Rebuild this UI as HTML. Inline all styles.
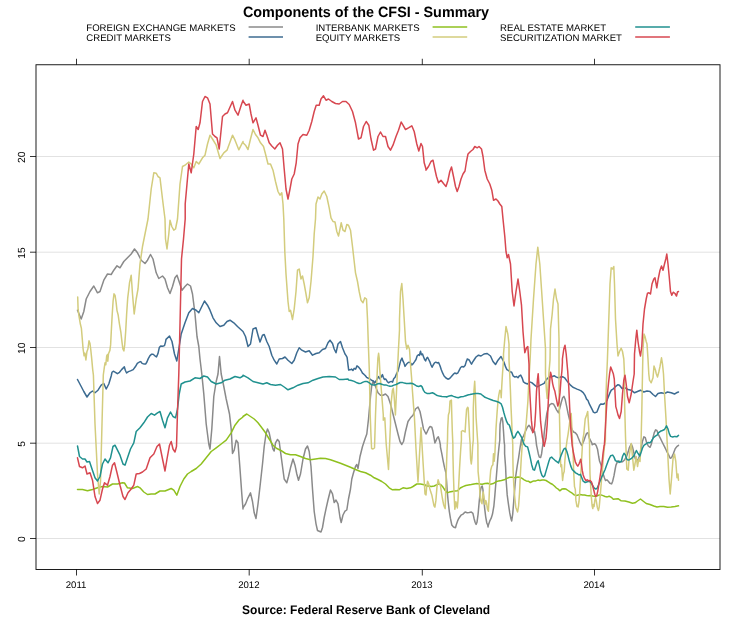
<!DOCTYPE html>
<html lang="en"><head><meta charset="utf-8"><title>Components of the CFSI - Summary</title>
<style>html,body{margin:0;padding:0;background:#fff}body{width:732px;height:620px;position:relative;overflow:hidden}</style></head>
<body>
<svg width="732" height="620" viewBox="0 0 732 620" style="position:absolute;left:0;top:0;will-change:transform;font-family:'Liberation Sans',Arial,sans-serif;text-rendering:geometricPrecision">
<line x1="36.0" x2="720.0" y1="538.5" y2="538.5" stroke="#dadada" stroke-width="0.8"/>
<line x1="36.0" x2="720.0" y1="443.2" y2="443.2" stroke="#dadada" stroke-width="0.8"/>
<line x1="36.0" x2="720.0" y1="347.5" y2="347.5" stroke="#dadada" stroke-width="0.8"/>
<line x1="36.0" x2="720.0" y1="252.2" y2="252.2" stroke="#dadada" stroke-width="0.8"/>
<line x1="36.0" x2="720.0" y1="156.5" y2="156.5" stroke="#dadada" stroke-width="0.8"/>
<path d="M77.5,310.2 L81.2,319.0 L83.8,311.5 L86.2,299.0 L90.0,291.5 L93.8,286.0 L97.5,292.8 L100.0,291.5 L103.8,280.2 L107.5,274.0 L111.2,274.5 L113.8,270.2 L117.0,265.8 L120.0,267.8 L123.8,261.5 L127.5,257.8 L131.2,254.0 L134.5,249.0 L137.5,252.8 L141.2,260.2 L145.0,263.5 L147.5,260.2 L150.5,254.5 L153.0,259.0 L156.2,272.8 L158.8,278.5 L162.5,276.0 L165.0,279.0 L167.5,287.8 L170.0,293.5 L172.5,286.5 L175.0,277.8 L177.0,275.2 L179.5,282.8 L182.0,290.2 L185.0,286.5 L187.5,284.0 L190.5,286.0 L192.5,294.0 L195.0,314.0 L197.0,336.5 L198.8,346.5 L200.0,359.0 L201.8,374.0 L203.8,394.0 L206.2,424.0 L208.8,444.0 L210.0,449.0 L211.8,429.0 L213.8,396.5 L216.2,381.5 L218.0,374.0 L219.5,356.5 L221.2,374.0 L223.8,386.5 L226.2,399.0 L229.5,414.0 L231.2,429.0 L232.5,453.5 L234.2,450.2 L236.2,440.2 L238.0,442.8 L240.0,469.0 L241.8,494.0 L243.0,509.0 L243.0,507.8 L245.5,504.0 L248.0,497.8 L250.5,492.8 L252.5,501.5 L254.2,512.8 L256.0,518.5 L258.0,504.0 L260.0,486.5 L262.5,464.0 L264.2,446.5 L266.0,434.0 L267.5,429.0 L269.2,432.8 L271.0,441.5 L273.0,449.0 L274.2,451.0 L275.5,442.8 L277.5,439.5 L279.2,441.5 L280.5,451.5 L282.5,466.5 L284.2,479.0 L286.8,482.8 L288.5,476.5 L290.5,467.8 L293.0,459.0 L295.0,465.2 L296.8,474.0 L298.5,480.2 L300.5,474.0 L303.0,459.0 L305.5,449.0 L307.5,446.0 L309.2,451.5 L311.0,466.5 L312.5,489.0 L314.2,511.5 L316.0,523.8 L317.5,530.5 L319.2,531.2 L321.0,532.0 L322.5,527.5 L324.2,517.5 L326.0,508.8 L328.0,500.0 L330.5,490.0 L332.5,493.8 L334.2,502.5 L336.0,500.0 L338.0,503.8 L340.0,517.5 L341.2,522.5 L343.0,515.0 L345.0,511.2 L346.8,510.0 L348.5,499.0 L350.5,489.0 L351.8,479.0 L353.5,472.8 L355.5,466.5 L356.8,464.5 L358.0,468.5 L360.0,456.5 L362.5,446.5 L365.0,439.0 L366.8,434.0 L368.5,419.0 L370.5,396.5 L371.8,385.2 L373.0,381.5 L375.5,386.5 L378.0,392.8 L380.5,395.2 L383.0,395.2 L385.5,394.0 L388.0,396.5 L390.5,404.0 L393.0,414.0 L395.5,424.0 L398.0,434.0 L400.0,441.5 L401.8,444.5 L403.5,441.5 L405.5,431.5 L408.0,421.5 L410.5,417.8 L413.0,415.2 L415.5,409.0 L418.0,407.0 L420.0,411.5 L421.8,420.2 L423.5,429.0 L426.0,434.0 L426.0,434.1 L427.4,431.3 L429.0,427.9 L430.1,426.5 L431.8,427.2 L432.9,431.3 L434.0,437.5 L434.9,443.0 L435.9,440.9 L437.0,438.2 L438.3,436.8 L439.4,440.2 L440.4,445.0 L440.4,446.9 L441.8,453.7 L443.1,460.6 L444.5,467.4 L445.9,472.9 L446.6,481.2 L447.3,492.1 L448.2,501.7 L449.3,511.3 L450.4,518.2 L451.8,525.0 L453.5,527.0 L455.5,527.8 L456.2,525.0 L457.6,520.9 L458.9,518.2 L461.0,515.2 L463.0,514.1 L465.1,512.0 L467.2,512.7 L469.2,512.4 L471.3,512.0 L472.9,513.4 L474.0,518.2 L475.1,522.3 L476.1,524.4 L477.0,522.3 L478.1,514.1 L479.2,501.7 L480.2,492.1 L481.1,487.3 L482.2,486.0 L482.9,489.4 L483.6,497.6 L484.7,508.6 L485.7,516.8 L486.8,523.0 L487.7,525.0 L488.0,527.0 L488.4,525.0 L489.8,520.9 L491.2,518.2 L492.5,514.1 L493.9,505.8 L494.9,494.9 L496.0,481.2 L497.1,467.4 L498.0,456.5 L499.0,446.9 L499.8,440.0 L499.8,434.1 L500.1,424.5 L501.2,418.3 L502.1,417.6 L502.8,421.7 L503.5,431.3 L504.2,442.3 L504.6,445.0 L504.6,453.7 L505.6,467.4 L506.2,481.2 L507.2,494.9 L508.3,503.1 L509.7,512.7 L510.8,518.2 L511.7,520.9 L512.7,514.1 L513.8,500.4 L514.9,486.6 L515.8,475.7 L517.2,466.1 L518.6,457.8 L520.0,448.2 L521.3,440.0 L521.3,445.0 L521.4,439.6 L523.5,436.1 L525.5,431.3 L527.3,427.2 L529.0,425.2 L530.3,427.2 L531.7,430.0 L533.1,432.0 L534.5,431.3 L535.6,436.8 L536.5,445.0 L536.9,446.9 L538.3,453.7 L539.3,457.1 L540.6,457.6 L541.6,453.7 L542.7,445.5 L543.4,440.0 L543.4,445.0 L544.1,434.1 L545.4,423.1 L546.8,413.5 L548.2,408.0 L549.8,404.6 L551.6,403.6 L553.4,403.9 L555.0,406.6 L556.7,410.1 L558.5,412.8 L559.8,408.0 L561.2,402.5 L562.6,397.7 L564.0,396.4 L565.3,399.8 L566.7,406.6 L568.1,413.5 L569.4,419.0 L570.8,425.8 L572.2,430.0 L573.6,432.0 L575.3,432.7 L577.0,434.8 L578.4,438.2 L579.7,441.6 L581.1,444.4 L581.8,445.5 L583.8,440.9 L585.2,436.8 L586.6,433.4 L588.0,432.7 L589.3,438.2 L590.7,440.9 L592.1,443.7 L592.1,444.8 L593.4,444.1 L594.8,443.8 L596.2,445.5 L597.6,449.6 L598.7,456.5 L599.6,461.3 L601.0,464.7 L602.0,468.8 L603.0,473.6 L604.4,477.7 L605.5,480.5 L606.9,479.8 L608.3,481.2 L609.9,483.2 L611.6,483.9 L612.7,481.2 L614.0,475.7 L615.1,469.5 L615.9,465.4 L617.1,462.4 L618.5,461.0 L620.6,461.7 L622.6,461.7 L624.7,459.7 L626.7,456.2 L628.1,452.1 L629.5,447.3 L631.3,443.9 L632.6,447.3 L634.0,453.5 L635.4,459.0 L636.8,460.4 L638.4,459.0 L639.8,454.9 L641.2,448.0 L642.5,441.2 L643.9,436.8 L645.3,437.7 L646.6,442.5 L648.3,446.0 L650.1,447.3 L651.4,443.9 L652.8,438.4 L654.2,432.9 L655.6,429.9 L656.9,430.5 L658.3,434.3 L660.4,438.4 L662.4,442.5 L664.5,446.6 L666.5,450.8 L668.6,454.9 L670.2,458.3 L671.6,457.6 L673.4,453.5 L675.2,448.7 L676.8,446.6 L678.5,445.3" fill="none" stroke="#8a8a8a" stroke-width="1.5" stroke-linejoin="round" stroke-linecap="round"/>
<path d="M77.5,379.5 L81.2,386.5 L83.8,391.5 L87.0,397.0 L90.0,392.8 L92.5,391.0 L95.0,392.8 L98.0,390.2 L101.2,385.2 L103.8,383.5 L106.2,389.0 L108.8,384.0 L111.2,376.0 L112.0,372.3 L113.3,371.2 L115.4,372.3 L117.4,373.7 L119.5,372.3 L121.6,369.6 L123.3,367.9 L124.3,366.8 L125.3,370.2 L126.6,373.0 L128.4,371.6 L130.5,370.9 L133.2,369.6 L135.3,366.8 L137.3,363.4 L139.4,362.0 L140.8,361.6 L142.1,363.4 L144.2,364.1 L145.6,364.1 L146.9,362.0 L148.3,358.6 L150.0,355.6 L151.7,354.2 L153.1,354.2 L154.9,355.8 L156.5,356.9 L157.9,353.8 L159.3,347.6 L160.7,346.0 L162.7,346.2 L164.5,345.6 L165.5,342.1 L166.0,339.4 L169.5,336.0 L172.0,341.5 L174.5,354.0 L176.8,361.0 L178.8,349.0 L181.2,334.0 L185.0,322.8 L188.8,312.8 L192.5,308.5 L196.2,310.2 L198.8,312.8 L201.2,307.8 L204.5,301.0 L207.5,305.2 L210.0,310.2 L213.0,317.8 L216.2,322.8 L220.0,326.5 L223.8,325.2 L227.0,321.5 L230.0,320.2 L233.8,322.8 L237.5,326.5 L243.0,331.5 L243.0,331.5 L245.5,336.5 L248.0,346.5 L250.5,344.0 L253.0,329.0 L256.0,327.8 L258.0,335.2 L260.0,342.0 L262.5,335.2 L264.2,334.5 L266.8,341.5 L269.2,346.5 L271.8,355.2 L274.2,360.2 L276.8,364.0 L279.2,359.0 L282.5,358.5 L285.0,357.0 L288.0,360.2 L291.8,363.5 L294.2,360.2 L296.8,352.8 L299.2,347.8 L301.8,350.2 L305.5,352.0 L309.2,350.8 L312.5,355.2 L316.0,353.5 L319.2,352.8 L322.5,349.5 L325.5,348.5 L328.0,342.8 L330.0,340.2 L332.5,343.5 L334.2,349.0 L336.0,352.8 L338.0,344.0 L340.5,341.5 L342.5,347.8 L345.0,354.0 L346.0,355.4 L347.1,357.4 L348.1,365.7 L348.7,370.1 L350.1,369.8 L351.5,369.1 L352.9,370.5 L354.2,368.4 L355.6,369.1 L357.0,365.9 L358.3,366.8 L359.7,368.4 L361.1,370.5 L362.5,373.2 L363.8,374.2 L365.2,375.5 L366.6,377.3 L367.9,378.0 L369.3,378.7 L370.7,379.7 L372.1,380.5 L373.4,381.0 L374.8,382.8 L376.2,380.8 L377.6,378.0 L378.6,376.6 L379.6,378.7 L381.0,377.3 L382.4,374.6 L383.3,377.3 L384.4,379.4 L385.8,379.1 L387.2,381.4 L388.5,382.8 L389.9,381.9 L391.3,381.4 L392.6,382.1 L393.7,378.7 L395.1,377.3 L396.5,373.9 L397.9,371.2 L399.2,366.4 L400.6,360.9 L402.0,358.1 L402.9,360.9 L403.9,362.9 L405.0,366.4 L406.4,364.3 L407.7,362.9 L409.1,362.2 L410.5,362.9 L411.8,365.0 L413.2,363.6 L414.6,361.6 L416.0,359.5 L417.1,356.1 L418.4,354.7 L419.4,355.4 L420.5,351.3 L421.4,354.7 L422.5,354.0 L423.5,356.7 L424.6,359.5 L425.6,360.9 L426.7,358.1 L427.6,357.4 L428.7,359.5 L430.0,362.2 L431.0,365.0 L432.1,367.3 L433.2,365.0 L434.5,362.9 L435.8,362.2 L437.2,362.9 L438.6,362.6 L440.0,365.7 L441.3,369.8 L442.7,373.2 L444.1,376.0 L446.0,378.0 L447.9,379.2 L449.6,378.5 L451.4,376.5 L453.2,374.4 L454.8,373.0 L456.5,373.7 L457.8,373.0 L459.2,370.3 L460.6,367.5 L461.9,366.6 L463.7,366.9 L465.1,365.5 L466.1,362.1 L466.9,360.0 L467.2,359.0 L469.2,360.0 L470.6,362.7 L471.5,364.1 L472.6,362.1 L474.0,360.0 L476.0,357.0 L478.5,355.2 L481.0,356.0 L484.0,354.0 L487.2,353.5 L490.5,356.0 L493.0,361.5 L495.5,364.5 L498.0,360.2 L501.0,356.5 L504.2,362.7 L505.6,366.9 L506.9,369.6 L508.3,370.3 L510.0,371.7 L511.7,372.3 L513.1,375.8 L514.9,377.1 L516.5,376.5 L518.0,377.8 L519.4,375.8 L520.7,375.1 L522.1,377.8 L523.5,381.9 L525.5,383.3 L527.6,384.0 L529.7,381.9 L531.7,382.6 L533.8,384.4 L535.8,386.1 L537.9,386.7 L539.9,385.4 L542.0,384.4 L544.1,383.3 L546.1,379.9 L548.2,377.8 L550.2,376.7 L552.3,376.5 L554.4,375.8 L556.4,377.1 L558.5,377.8 L560.5,377.1 L562.6,376.7 L564.6,377.8 L566.7,380.6 L568.8,383.3 L570.8,385.4 L572.9,387.2 L574.9,388.1 L577.0,389.1 L579.0,389.9 L581.1,390.9 L583.2,392.6 L585.2,395.7 L586.6,399.1 L588.0,400.5 L589.3,403.9 L590.7,406.6 L592.1,409.4 L593.4,412.1 L594.8,412.8 L596.9,412.1 L598.2,408.7 L599.6,405.3 L601.0,403.9 L603.0,404.2 L605.1,403.2 L607.2,399.8 L608.5,396.4 L609.9,392.9 L611.3,390.2 L613.3,388.8 L615.4,386.7 L618.0,384.7 L619.5,385.2 L622.0,388.5 L625.0,387.8 L628.0,389.5 L631.2,390.2 L634.5,392.8 L637.5,391.5 L640.5,390.2 L643.8,392.0 L647.0,391.0 L650.0,391.5 L653.0,394.5 L655.5,396.5 L658.0,393.5 L661.2,392.8 L664.5,393.5 L667.5,392.0 L671.2,392.8 L674.5,394.0 L676.5,392.8 L678.5,392.0" fill="none" stroke="#3c6b91" stroke-width="1.5" stroke-linejoin="round" stroke-linecap="round"/>
<path d="M77.5,489.5 L82.5,489.5 L87.5,490.8 L92.5,489.5 L97.5,487.8 L102.5,486.5 L107.5,487.0 L112.5,484.0 L117.5,484.0 L122.5,482.8 L124.5,483.0 L127.5,487.8 L132.5,488.5 L137.5,486.5 L140.0,487.8 L143.8,492.0 L147.5,494.5 L151.2,494.0 L155.0,494.0 L160.0,491.0 L165.0,491.0 L171.2,488.5 L173.8,490.2 L176.8,495.2 L180.0,486.5 L183.8,479.0 L187.5,474.0 L191.2,471.5 L196.2,468.5 L201.2,464.0 L206.2,457.8 L211.2,451.5 L216.2,447.8 L221.2,444.0 L226.2,440.2 L231.2,432.8 L235.0,425.2 L238.8,420.2 L243.0,417.0 L243.0,416.5 L246.8,414.0 L250.5,416.5 L254.2,419.0 L258.0,422.8 L261.8,427.8 L265.5,432.8 L269.2,439.0 L273.0,445.2 L276.8,448.5 L280.5,450.2 L285.5,453.5 L290.5,454.8 L295.5,454.8 L300.5,456.5 L305.5,458.5 L310.5,459.8 L315.5,459.0 L320.5,458.2 L325.5,458.5 L330.5,459.8 L335.5,461.5 L340.5,463.2 L345.5,465.2 L350.5,467.2 L355.5,469.5 L360.5,471.5 L365.5,472.8 L370.5,475.2 L374.2,477.8 L378.0,479.5 L381.8,481.5 L385.5,484.0 L389.2,487.8 L392.5,489.8 L395.5,489.5 L399.2,489.8 L403.0,487.8 L406.8,488.5 L410.5,487.8 L413.0,486.5 L416.8,484.0 L420.5,484.0 L424.2,484.8 L426.0,485.2 L426.0,486.0 L428.7,486.0 L431.5,486.4 L434.2,486.0 L437.0,484.6 L439.0,483.9 L441.1,485.0 L443.1,487.3 L445.2,490.5 L447.3,492.8 L449.3,492.1 L452.1,491.4 L454.8,491.0 L457.6,490.8 L460.3,488.0 L463.0,486.6 L465.8,485.5 L468.5,485.0 L471.3,484.6 L474.0,483.9 L476.8,483.6 L479.5,483.9 L482.2,484.2 L485.0,483.6 L487.7,483.2 L490.5,484.2 L493.2,483.6 L496.0,481.8 L498.7,480.9 L501.4,480.5 L504.2,479.8 L506.9,478.4 L509.7,477.3 L512.4,477.3 L515.2,477.7 L517.9,477.0 L518.0,477.0 L520.1,477.3 L522.1,478.4 L524.2,479.8 L526.2,480.9 L528.3,481.2 L530.3,482.5 L531.7,481.8 L533.8,480.9 L535.8,480.9 L537.9,480.1 L539.9,480.5 L542.0,480.1 L544.1,480.1 L546.1,480.5 L548.2,481.8 L550.2,483.2 L552.3,484.2 L554.4,486.0 L556.4,488.0 L558.5,489.4 L559.8,490.8 L561.9,489.1 L564.0,488.7 L566.0,489.1 L568.1,490.5 L570.1,491.9 L572.2,493.2 L574.2,494.9 L576.3,495.6 L578.4,495.1 L580.4,494.6 L582.5,494.9 L584.5,495.1 L586.6,495.6 L588.6,495.7 L590.7,495.6 L592.8,496.0 L594.8,496.2 L596.9,496.0 L598.9,495.1 L601.0,494.9 L603.0,495.6 L605.1,496.5 L607.2,496.9 L609.2,496.2 L611.3,497.3 L613.3,499.3 L615.4,499.0 L618.0,498.7 L621.2,500.8 L625.0,501.0 L628.8,502.0 L632.5,503.2 L635.0,502.8 L637.5,501.0 L640.5,499.0 L643.0,501.0 L646.2,503.5 L650.0,504.5 L653.8,506.0 L657.0,507.0 L660.0,506.5 L663.8,506.5 L667.5,507.2 L671.2,507.0 L675.0,506.5 L678.5,505.8" fill="none" stroke="#8fc01f" stroke-width="1.5" stroke-linejoin="round" stroke-linecap="round"/>
<path d="M77.7,296.9 L78.1,309.2 L79.0,316.1 L80.4,324.3 L81.4,328.4 L82.2,338.0 L83.1,349.0 L84.1,355.8 L84.9,353.1 L85.9,360.0 L86.9,351.7 L87.9,349.0 L89.0,340.8 L90.0,343.5 L90.7,349.0 L91.7,358.6 L92.7,369.6 L93.4,375.0 L95.0,424.0 L97.5,474.0 L99.2,494.0 L100.5,481.5 L102.0,424.0 L103.3,375.0 L104.4,366.8 L105.1,362.7 L105.8,364.8 L106.7,355.8 L107.4,354.5 L107.8,361.3 L108.5,353.8 L109.9,350.4 L110.6,344.9 L111.3,331.2 L112.2,314.7 L113.1,301.0 L114.0,293.8 L115.1,295.5 L116.1,302.3 L117.0,310.6 L118.1,314.7 L119.5,324.3 L120.9,332.5 L122.0,342.1 L122.9,349.0 L123.9,351.0 L124.7,344.9 L125.7,331.2 L126.6,314.7 L127.7,298.2 L128.7,290.0 L129.5,282.8 L131.2,275.2 L132.5,294.0 L134.2,314.0 L136.2,299.0 L138.0,289.0 L140.0,264.0 L142.5,246.5 L145.0,234.0 L148.0,219.0 L151.2,189.0 L153.8,172.8 L156.2,173.2 L158.0,176.5 L160.0,177.8 L162.5,199.0 L165.0,219.0 L165.5,239.0 L167.0,249.0 L168.8,234.0 L170.0,220.2 L171.8,226.5 L173.8,230.2 L175.5,229.0 L177.5,219.0 L180.0,184.0 L182.5,166.5 L185.0,165.2 L188.8,162.0 L191.2,164.0 L193.8,167.8 L196.2,161.5 L198.8,164.0 L202.5,157.8 L205.0,155.2 L207.5,144.0 L210.0,135.2 L212.5,139.0 L216.2,145.2 L220.0,158.5 L223.8,152.8 L227.0,150.2 L232.5,135.2 L235.0,140.2 L238.8,149.8 L243.0,141.5 L243.0,142.8 L245.5,145.2 L248.0,149.5 L250.5,139.0 L253.0,129.5 L255.5,134.5 L258.0,137.8 L260.5,142.8 L263.5,146.5 L265.5,154.0 L268.0,164.0 L270.5,164.0 L273.0,170.2 L275.5,181.5 L278.0,191.5 L280.0,195.2 L281.8,192.8 L283.0,204.0 L283.8,219.0 L284.8,251.5 L286.0,274.0 L288.0,301.5 L289.2,311.5 L290.5,310.2 L292.5,319.5 L294.2,309.0 L296.0,291.5 L297.5,270.2 L299.2,269.0 L301.0,279.0 L302.5,276.0 L304.2,284.0 L306.0,294.0 L307.5,302.8 L309.2,297.8 L311.0,281.5 L313.0,256.5 L314.2,234.0 L315.5,219.0 L316.0,204.0 L318.0,197.0 L320.0,199.0 L321.8,194.0 L324.2,191.0 L326.8,196.5 L329.2,207.8 L331.0,217.8 L333.0,221.5 L335.0,222.0 L336.8,231.5 L338.5,236.0 L340.0,229.0 L341.2,222.8 L343.0,230.2 L345.0,231.5 L346.8,224.5 L348.5,225.2 L350.5,230.2 L352.5,246.5 L354.2,261.5 L355.5,272.8 L357.5,281.5 L359.2,291.5 L361.0,300.2 L363.0,302.8 L364.8,297.8 L366.5,299.0 L367.5,319.0 L368.2,340.0 L369.3,370.0 L370.2,415.0 L371.0,436.0 L371.6,448.5 L373.0,449.0 L374.5,448.0 L375.0,432.0 L375.5,415.0 L377.3,370.0 L377.9,358.0 L378.6,353.3 L379.2,358.0 L379.8,370.0 L381.5,392.0 L383.3,415.0 L383.3,420.2 L384.8,417.8 L386.2,444.0 L388.5,469.5 L390.5,424.0 L390.5,415.0 L391.3,401.3 L392.4,390.4 L393.3,388.3 L394.0,394.5 L394.7,404.1 L395.4,415.0 L396.5,391.7 L397.4,371.2 L398.4,350.6 L399.5,330.0 L399.5,319.0 L400.5,291.5 L401.8,283.5 L403.0,299.0 L404.2,319.0 L405.5,341.5 L406.8,349.0 L408.0,345.2 L409.5,349.2 L410.5,364.3 L411.6,378.0 L412.5,391.7 L413.5,405.4 L414.3,415.0 L416.0,449.0 L418.0,482.0 L419.8,449.0 L421.0,427.8 L423.0,461.5 L425.0,494.0 L426.0,494.9 L426.7,486.6 L427.6,481.2 L428.7,483.9 L429.8,488.7 L430.8,492.1 L431.8,494.9 L432.9,500.4 L434.0,505.8 L434.9,507.2 L435.9,500.4 L437.0,486.6 L438.1,479.8 L439.0,482.5 L440.4,485.3 L441.4,492.1 L442.5,499.0 L443.6,504.5 L444.5,507.2 L445.2,508.6 L445.6,494.9 L446.2,474.3 L446.9,453.7 L447.5,440.0 L447.7,428.6 L448.4,414.9 L449.3,412.1 L450.0,401.2 L451.4,400.1 L451.8,414.9 L452.3,431.3 L452.9,445.0 L452.9,453.7 L453.4,474.3 L454.1,494.9 L454.8,509.3 L455.5,505.8 L455.9,501.7 L456.5,504.5 L457.3,507.9 L458.0,500.4 L458.6,486.6 L459.6,467.4 L460.6,451.0 L461.4,440.0 L461.4,434.1 L461.4,431.3 L462.8,430.6 L464.1,431.3 L465.1,432.0 L465.8,420.4 L466.6,409.4 L467.6,407.3 L468.2,408.0 L468.8,420.4 L469.6,436.8 L470.2,445.0 L470.2,448.2 L470.6,459.2 L471.3,464.0 L472.0,457.8 L472.6,446.9 L473.3,440.0 L473.3,428.6 L473.3,408.0 L474.0,390.2 L474.7,381.3 L475.4,395.7 L476.1,417.6 L477.0,431.3 L477.9,445.0 L477.9,453.7 L478.1,471.6 L478.8,478.4 L479.5,486.6 L480.2,497.6 L481.1,501.7 L482.0,503.8 L482.7,494.9 L483.3,492.1 L484.0,497.6 L485.0,504.5 L485.8,500.4 L486.6,503.1 L487.5,509.3 L488.4,511.3 L489.1,497.6 L489.8,481.2 L490.7,470.2 L491.8,466.1 L492.9,464.7 L493.5,453.7 L494.2,461.3 L494.9,453.7 L495.5,440.0 L496.0,428.6 L497.1,412.1 L498.0,401.2 L498.7,395.7 L499.8,390.2 L500.8,391.8 L501.2,397.7 L501.7,387.4 L502.5,373.7 L503.5,360.0 L503.5,354.0 L504.8,339.0 L506.0,326.5 L507.8,334.0 L509.0,344.0 L509.0,360.0 L509.7,373.7 L510.4,390.2 L511.0,406.6 L511.7,421.7 L512.4,438.2 L512.8,445.0 L512.8,453.7 L513.1,470.2 L513.8,485.3 L514.9,499.0 L515.8,507.2 L516.8,510.0 L517.6,512.0 L518.6,505.8 L519.6,492.1 L520.4,474.3 L521.3,457.8 L522.3,444.1 L522.8,440.0 L524.2,440.9 L526.2,423.1 L527.9,401.2 L529.0,377.8 L530.1,360.0 L531.0,339.0 L533.5,299.0 L536.0,264.0 L537.8,247.2 L539.8,264.0 L541.5,289.0 L543.5,319.0 L545.5,349.0 L545.5,360.0 L545.5,373.7 L546.4,390.2 L547.2,398.4 L548.2,384.7 L549.1,371.0 L550.0,360.0 L550.5,329.0 L552.2,314.0 L553.5,299.0 L555.0,289.0 L556.5,299.0 L558.0,304.0 L559.0,339.0 L559.0,360.0 L559.0,380.6 L559.2,401.2 L559.6,421.7 L560.1,445.0 L560.2,453.7 L560.8,466.7 L561.6,464.7 L562.2,474.3 L562.6,480.5 L563.3,474.3 L564.2,471.6 L564.9,460.6 L566.0,448.2 L567.1,440.0 L568.1,434.1 L569.4,424.5 L570.5,414.9 L571.2,413.5 L571.8,425.8 L572.6,445.0 L573.1,453.7 L573.8,474.3 L574.5,486.6 L575.3,489.4 L575.9,500.4 L577.0,506.5 L578.1,506.9 L579.0,501.7 L580.0,488.0 L580.8,474.3 L581.8,456.5 L582.7,440.0 L583.8,434.1 L585.2,419.0 L586.6,414.9 L587.7,411.4 L588.2,420.4 L589.1,434.1 L589.6,445.0 L589.6,453.7 L590.0,474.3 L590.7,486.6 L591.4,497.6 L592.1,505.8 L592.8,508.6 L593.4,504.5 L594.1,506.5 L594.8,500.4 L595.5,497.6 L596.2,500.4 L597.3,507.2 L598.4,510.6 L599.2,507.2 L600.3,494.9 L601.4,481.2 L602.4,470.2 L603.3,457.8 L604.4,446.9 L605.4,440.0 L605.8,401.2 L606.5,380.6 L607.4,360.0 L608.8,319.0 L610.0,284.0 L611.2,267.8 L612.5,269.0 L613.8,266.5 L614.5,284.0 L615.5,319.0 L617.0,344.0 L618.0,356.0 L619.5,351.5 L621.2,348.2 L622.5,351.5 L623.8,359.0 L624.5,374.0 L624.5,399.0 L625.5,436.5 L626.8,469.0 L628.2,470.2 L629.5,454.0 L631.2,443.5 L632.5,456.5 L633.8,470.2 L635.0,464.0 L636.2,456.5 L637.5,466.5 L638.8,459.0 L640.0,461.5 L641.0,444.0 L641.8,411.5 L642.5,374.0 L643.0,349.0 L644.0,334.0 L645.0,336.5 L646.2,341.5 L647.0,344.0 L648.0,359.0 L648.8,374.0 L649.5,380.2 L651.2,382.8 L653.0,377.8 L654.0,366.0 L655.5,370.2 L656.2,373.5 L657.5,377.0 L658.8,372.0 L660.0,366.5 L661.5,357.8 L662.5,364.0 L663.5,374.0 L664.5,394.0 L666.0,419.0 L667.5,449.0 L669.0,479.0 L670.2,494.0 L671.5,479.0 L673.0,459.0 L674.5,454.0 L675.8,461.5 L677.0,477.8 L678.0,474.0 L678.5,480.2" fill="none" stroke="#d3cc7d" stroke-width="1.5" stroke-linejoin="round" stroke-linecap="round"/>
<path d="M77.5,446.0 L79.5,456.5 L82.5,459.0 L85.0,459.0 L87.0,462.0 L89.5,461.5 L92.0,469.0 L95.0,477.8 L97.5,481.0 L100.0,476.5 L102.5,464.0 L105.0,459.0 L108.0,462.8 L110.5,457.8 L113.0,446.5 L115.0,445.2 L117.5,450.2 L120.0,455.2 L123.0,464.0 L125.0,465.2 L127.5,457.8 L130.5,449.0 L133.8,442.8 L136.2,431.5 L140.0,427.8 L143.8,422.8 L147.5,417.0 L151.2,413.5 L154.5,415.2 L157.5,412.8 L160.0,411.5 L162.5,420.2 L165.0,427.8 L167.5,417.8 L170.5,412.0 L173.0,416.5 L175.5,417.8 L177.5,409.0 L179.2,394.0 L181.2,384.0 L185.0,382.0 L190.0,381.0 L195.0,377.8 L200.0,378.5 L203.8,376.0 L207.5,377.0 L211.2,381.5 L216.2,384.0 L221.2,382.8 L225.0,380.2 L230.0,379.0 L235.0,376.5 L240.0,377.8 L243.0,376.0 L243.0,375.2 L248.0,377.8 L253.0,381.5 L258.0,382.8 L263.0,384.0 L266.8,382.8 L270.5,384.5 L275.5,385.2 L280.5,384.5 L284.2,387.0 L288.0,389.8 L293.0,387.8 L298.0,385.2 L303.0,383.5 L308.0,382.8 L313.0,380.2 L318.0,378.5 L323.0,377.0 L329.2,376.5 L335.5,377.0 L339.2,379.5 L343.0,379.5 L348.0,379.0 L348.7,380.1 L351.5,380.5 L354.2,381.4 L357.0,382.8 L359.0,383.5 L361.1,383.2 L363.1,382.1 L365.2,381.4 L367.3,381.6 L369.3,382.8 L371.4,384.6 L373.4,385.1 L375.5,384.9 L377.6,383.8 L379.6,383.5 L381.7,384.2 L383.7,384.9 L385.8,384.9 L387.8,385.6 L389.9,386.2 L392.0,386.0 L394.0,385.1 L396.1,384.5 L398.1,383.5 L400.2,382.5 L402.2,382.4 L404.3,383.1 L406.4,383.5 L408.4,383.5 L410.5,383.2 L412.5,383.5 L414.6,384.6 L416.6,386.0 L418.7,386.5 L420.8,385.6 L422.1,386.9 L423.5,390.4 L424.9,392.4 L426.9,393.4 L429.7,393.4 L432.4,392.8 L434.5,393.8 L436.5,395.2 L439.3,396.1 L442.0,396.5 L446.0,396.8 L446.6,397.0 L449.3,395.9 L451.4,395.4 L453.4,396.4 L456.2,397.3 L458.2,397.7 L461.0,396.8 L463.7,396.4 L465.8,395.7 L467.8,395.0 L469.9,394.6 L472.6,394.0 L475.4,393.6 L478.1,393.6 L480.9,394.0 L482.9,395.7 L485.0,397.3 L487.7,398.4 L490.5,399.5 L493.2,400.5 L496.0,401.2 L498.7,402.2 L501.2,403.9 L502.5,407.3 L503.9,412.8 L505.3,417.6 L506.7,421.7 L508.0,424.2 L509.4,425.2 L510.8,430.0 L512.1,434.8 L513.5,438.2 L514.9,437.1 L516.5,433.4 L517.9,431.3 L519.3,433.4 L520.9,436.1 L522.0,438.2 L523.1,441.6 L524.1,444.4 L524.1,444.1 L525.5,446.2 L527.6,446.9 L529.0,452.3 L530.3,457.8 L531.7,464.7 L533.1,469.5 L534.5,470.2 L535.8,466.1 L537.2,461.9 L538.2,460.6 L539.3,465.4 L540.6,471.6 L542.0,475.4 L543.4,477.0 L544.7,475.7 L546.1,470.9 L547.5,466.1 L548.9,461.3 L550.2,457.8 L551.6,457.1 L553.0,458.5 L555.0,460.3 L557.1,461.9 L558.5,463.0 L559.8,459.2 L561.2,455.1 L562.6,451.7 L564.0,448.9 L565.3,448.2 L566.7,451.0 L568.1,455.8 L569.4,461.3 L570.8,466.1 L572.2,469.5 L573.6,470.9 L575.6,472.9 L577.7,474.0 L579.0,475.0 L580.4,474.3 L581.8,477.7 L583.2,481.2 L585.2,482.5 L587.3,481.8 L589.3,481.2 L591.4,483.2 L592.8,486.0 L594.1,488.0 L595.8,489.1 L597.3,488.0 L598.9,483.9 L600.3,480.5 L601.7,477.0 L603.0,474.3 L605.1,469.5 L606.5,465.4 L607.8,461.9 L609.2,458.5 L610.6,455.8 L612.7,455.1 L614.0,457.1 L615.4,460.6 L616.8,461.3 L618.0,461.3 L619.2,462.4 L621.3,461.5 L622.6,456.2 L624.0,453.2 L625.4,454.9 L626.7,459.0 L628.1,460.1 L629.5,459.7 L631.6,458.3 L633.6,456.2 L635.0,453.5 L636.4,450.5 L637.7,452.8 L639.8,456.0 L641.2,452.1 L642.5,448.0 L643.9,445.3 L646.0,443.9 L648.0,442.5 L650.1,442.8 L651.4,441.2 L653.5,437.7 L655.6,435.9 L656.9,435.4 L658.3,432.9 L660.4,431.3 L662.4,430.5 L664.5,429.5 L666.5,425.8 L667.9,428.8 L669.3,433.6 L670.6,436.4 L672.7,437.0 L674.8,436.4 L676.8,436.8 L678.5,435.4" fill="none" stroke="#20918f" stroke-width="1.5" stroke-linejoin="round" stroke-linecap="round"/>
<path d="M77.5,457.8 L79.5,466.5 L82.5,467.8 L85.0,466.0 L87.0,474.0 L90.0,472.8 L92.5,480.2 L95.0,496.5 L97.5,503.5 L100.0,500.2 L102.5,489.0 L104.5,482.8 L107.5,485.2 L110.0,476.5 L112.5,465.2 L114.5,462.8 L117.0,472.8 L120.0,485.2 L123.0,496.5 L125.0,499.5 L128.0,492.8 L131.2,489.0 L133.8,485.2 L136.2,474.0 L139.5,473.5 L142.5,472.0 L146.2,469.0 L150.0,457.8 L153.8,454.0 L157.0,446.5 L159.5,444.0 L162.0,456.5 L165.0,471.0 L167.0,459.0 L169.5,445.2 L171.2,441.5 L173.0,449.0 L175.0,452.0 L176.5,446.5 L177.5,411.5 L178.8,374.0 L180.0,324.0 L181.5,259.0 L183.5,239.0 L185.2,219.0 L185.2,204.0 L187.0,184.0 L188.8,164.0 L191.2,172.8 L193.8,154.0 L196.2,126.5 L198.2,129.5 L200.0,122.8 L202.5,101.5 L205.0,96.5 L207.5,97.8 L210.0,104.0 L212.5,134.0 L215.0,136.5 L217.0,137.8 L219.2,149.0 L222.5,116.5 L225.0,114.0 L227.5,112.8 L232.5,101.5 L235.0,110.2 L238.0,115.2 L241.2,105.2 L243.0,100.2 L243.0,101.0 L246.0,105.2 L249.2,104.0 L251.0,114.0 L253.0,122.8 L256.0,117.8 L258.0,125.2 L260.5,135.2 L263.0,136.5 L265.0,130.2 L266.8,135.2 L269.2,142.8 L271.8,146.0 L274.8,149.0 L277.5,145.2 L280.0,142.8 L282.5,149.0 L284.2,169.0 L286.0,189.0 L288.0,199.0 L290.0,189.0 L291.8,179.0 L294.2,174.0 L296.2,162.8 L298.0,144.0 L300.0,137.8 L303.0,134.5 L306.8,135.2 L309.2,130.2 L311.8,121.5 L314.2,111.5 L316.2,105.2 L319.2,105.2 L321.0,99.0 L323.5,95.8 L326.0,100.2 L328.5,99.0 L331.8,101.5 L335.5,103.5 L339.2,104.0 L342.5,101.5 L346.0,101.5 L349.2,104.5 L352.5,111.5 L355.5,122.8 L358.5,139.0 L361.0,137.8 L363.5,126.5 L366.2,121.5 L368.8,125.2 L371.0,139.0 L373.5,150.2 L375.5,149.0 L378.0,136.5 L380.5,132.0 L383.0,136.5 L385.5,136.5 L388.0,146.5 L390.5,150.2 L393.0,145.2 L396.0,136.5 L398.5,130.2 L401.2,122.0 L403.0,125.2 L405.5,129.5 L408.5,127.8 L411.8,125.8 L414.2,131.5 L416.8,144.0 L418.8,151.0 L421.0,143.5 L422.5,146.5 L424.2,162.8 L426.0,169.0 L426.0,170.2 L428.5,166.5 L431.0,161.5 L433.0,160.2 L434.8,169.0 L436.5,176.5 L438.5,182.8 L441.0,180.2 L443.5,183.5 L446.0,186.5 L448.0,180.2 L449.8,171.5 L451.5,167.0 L453.5,176.5 L455.5,186.5 L457.2,191.5 L459.0,186.5 L461.0,179.0 L463.0,174.0 L465.0,171.0 L466.5,161.5 L468.0,154.0 L470.5,151.5 L473.0,149.5 L474.8,146.5 L477.2,147.8 L479.0,146.5 L481.5,149.0 L483.0,156.5 L484.8,170.2 L487.2,179.0 L489.8,184.0 L491.8,190.2 L493.5,200.2 L496.0,199.0 L498.0,201.0 L499.8,204.0 L501.8,206.5 L503.0,219.0 L503.0,219.0 L504.8,236.5 L506.0,251.5 L507.2,257.8 L508.5,254.5 L510.5,264.0 L512.2,291.5 L514.0,306.0 L516.0,291.5 L518.0,279.0 L519.8,291.5 L521.5,305.2 L523.0,331.5 L524.8,352.8 L526.5,347.8 L527.8,346.5 L529.0,364.0 L529.2,380.6 L530.3,401.2 L531.4,420.4 L532.7,432.7 L533.8,430.6 L534.7,425.8 L535.6,412.1 L536.5,391.6 L537.5,379.2 L538.2,373.7 L538.9,384.7 L539.7,405.3 L540.6,421.7 L542.3,436.8 L544.2,446.3 L546.0,438.2 L547.2,424.5 L548.3,401.2 L549.6,381.9 L550.6,372.3 L551.6,376.5 L552.6,383.3 L553.7,388.1 L554.8,390.9 L555.7,395.7 L556.8,401.2 L557.8,406.0 L558.9,402.5 L560.0,392.9 L560.9,380.6 L561.9,371.0 L562.4,362.7 L562.4,359.0 L563.8,349.0 L565.0,345.2 L566.2,354.0 L567.5,369.0 L567.7,371.0 L568.8,387.4 L569.7,408.0 L570.8,428.6 L571.8,440.9 L572.2,445.5 L573.1,451.0 L574.2,456.5 L575.3,461.9 L576.7,464.7 L577.8,466.1 L579.0,464.0 L580.0,461.3 L580.7,459.2 L581.4,463.3 L582.2,470.2 L583.2,475.0 L584.5,478.4 L585.9,480.5 L587.3,479.8 L588.6,480.9 L590.0,480.5 L591.4,481.8 L592.8,486.0 L593.9,490.8 L594.8,494.2 L595.8,496.5 L596.9,494.9 L597.8,490.8 L598.9,483.9 L600.0,477.0 L601.0,470.2 L602.0,463.3 L603.0,453.7 L604.1,445.5 L604.4,445.0 L605.5,425.8 L606.5,408.0 L607.4,394.3 L608.5,383.3 L609.6,373.7 L610.7,366.9 L612.0,370.3 L613.3,373.7 L614.3,379.2 L615.1,394.3 L615.8,406.6 L616.8,410.1 L618.0,414.9 L619.5,418.5 L621.2,411.5 L622.5,394.0 L623.8,380.2 L625.0,375.2 L626.2,384.0 L627.5,396.5 L629.2,402.8 L631.2,394.0 L633.0,381.5 L634.2,374.0 L634.5,354.0 L635.8,339.0 L636.8,330.2 L638.0,341.5 L639.5,351.5 L640.5,356.0 L641.8,346.5 L643.0,324.0 L644.5,309.0 L646.2,299.0 L647.5,293.2 L649.0,292.8 L650.5,294.0 L652.0,284.0 L653.8,279.0 L655.0,277.8 L656.8,287.8 L658.2,279.0 L660.0,270.2 L661.5,266.0 L663.0,270.2 L664.5,264.0 L665.8,259.0 L666.8,254.0 L668.0,264.0 L669.2,276.5 L670.5,291.5 L671.8,295.2 L673.2,292.2 L675.0,293.5 L676.5,296.0 L677.5,292.0 L678.5,291.5" fill="none" stroke="#d74750" stroke-width="1.5" stroke-linejoin="round" stroke-linecap="round"/>
<rect x="36.0" y="64.75" width="684.0" height="504.75" fill="none" stroke="#111" stroke-width="0.95"/>
<line x1="76.5" x2="76.5" y1="569.5" y2="575.5" stroke="#000" stroke-width="0.8"/>
<line x1="76.5" x2="76.5" y1="58.75" y2="64.75" stroke="#000" stroke-width="0.8"/>
<line x1="249.2" x2="249.2" y1="569.5" y2="575.5" stroke="#000" stroke-width="0.8"/>
<line x1="249.2" x2="249.2" y1="58.75" y2="64.75" stroke="#000" stroke-width="0.8"/>
<line x1="422.3" x2="422.3" y1="569.5" y2="575.5" stroke="#000" stroke-width="0.8"/>
<line x1="422.3" x2="422.3" y1="58.75" y2="64.75" stroke="#000" stroke-width="0.8"/>
<line x1="594.5" x2="594.5" y1="569.5" y2="575.5" stroke="#000" stroke-width="0.8"/>
<line x1="594.5" x2="594.5" y1="58.75" y2="64.75" stroke="#000" stroke-width="0.8"/>
<line x1="30.0" x2="36.0" y1="538.5" y2="538.5" stroke="#000" stroke-width="0.8"/>
<text transform="translate(25,539.2) rotate(-90)" text-anchor="middle" font-size="10.3" fill="#000">0</text>
<line x1="30.0" x2="36.0" y1="443.2" y2="443.2" stroke="#000" stroke-width="0.8"/>
<text transform="translate(25,443.9) rotate(-90)" text-anchor="middle" font-size="10.3" fill="#000">5</text>
<line x1="30.0" x2="36.0" y1="347.5" y2="347.5" stroke="#000" stroke-width="0.8"/>
<text transform="translate(25,348.2) rotate(-90)" text-anchor="middle" font-size="10.3" fill="#000">10</text>
<line x1="30.0" x2="36.0" y1="252.2" y2="252.2" stroke="#000" stroke-width="0.8"/>
<text transform="translate(25,252.9) rotate(-90)" text-anchor="middle" font-size="10.3" fill="#000">15</text>
<line x1="30.0" x2="36.0" y1="156.5" y2="156.5" stroke="#000" stroke-width="0.8"/>
<text transform="translate(25,157.2) rotate(-90)" text-anchor="middle" font-size="10.3" fill="#000">20</text>
<text x="76.1" y="588" text-anchor="middle" font-size="9.6" fill="#000">2011</text>
<text x="248.8" y="588" text-anchor="middle" font-size="9.6" fill="#000">2012</text>
<text x="421.9" y="588" text-anchor="middle" font-size="9.6" fill="#000">2013</text>
<text x="594.1" y="588" text-anchor="middle" font-size="9.6" fill="#000">2014</text>
<text id="title" x="366.0" y="17.3" text-anchor="middle" font-size="14.9" textLength="246.2" lengthAdjust="spacingAndGlyphs" font-weight="bold" fill="#000">Components of the CFSI - Summary</text>
<text id="cap" x="366.1" y="613.5" text-anchor="middle" font-size="12.4" textLength="248.1" lengthAdjust="spacingAndGlyphs" font-weight="bold" fill="#000">Source: Federal Reserve Bank of Cleveland</text>
<text class="leg" x="86.3" y="31" font-size="9.6" fill="#000">FOREIGN EXCHANGE MARKETS</text>
<line x1="248.6" x2="283" y1="27.05" y2="27.05" stroke="#8a8a8a" stroke-width="1.5"/>
<text class="leg" x="86.3" y="41" font-size="9.6" fill="#000">CREDIT MARKETS</text>
<line x1="248.6" x2="283" y1="37.05" y2="37.05" stroke="#3c6b91" stroke-width="1.5"/>
<text class="leg" x="315.65" y="31" font-size="9.6" fill="#000">INTERBANK MARKETS</text>
<line x1="432.6" x2="467.2" y1="27.05" y2="27.05" stroke="#8fc01f" stroke-width="1.5"/>
<text class="leg" x="315.65" y="41" font-size="9.6" fill="#000">EQUITY MARKETS</text>
<line x1="432.6" x2="467.2" y1="37.05" y2="37.05" stroke="#d3cc7d" stroke-width="1.5"/>
<text class="leg" x="500.1" y="31" font-size="9.6" fill="#000">REAL ESTATE MARKET</text>
<line x1="635.2" x2="669.9" y1="27.05" y2="27.05" stroke="#20918f" stroke-width="1.5"/>
<text class="leg" x="500.1" y="41" font-size="9.6" fill="#000">SECURITIZATION MARKET</text>
<line x1="635.2" x2="669.9" y1="37.05" y2="37.05" stroke="#d74750" stroke-width="1.5"/>
</svg>
</body></html>
